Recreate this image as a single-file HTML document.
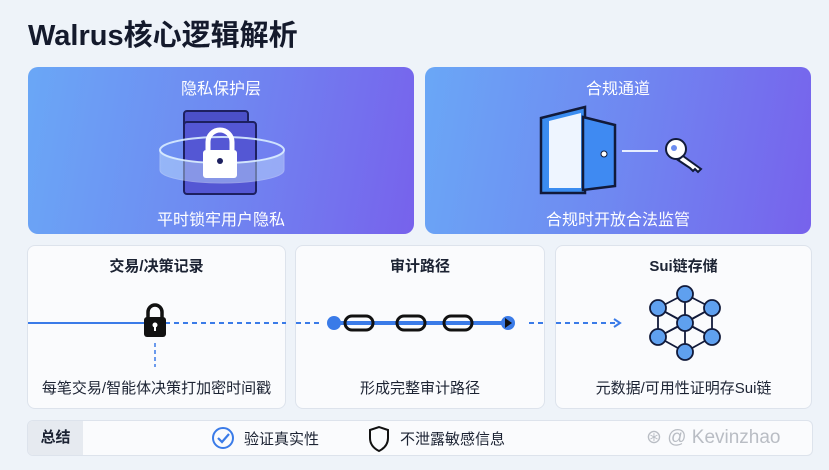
<!DOCTYPE html>
<html><head><meta charset="utf-8"><style>
*{margin:0;padding:0;box-sizing:border-box}
body{width:829px;height:470px;background:#eef3f9;font-family:"Liberation Sans","Noto Sans CJK SC",sans-serif;position:relative;overflow:hidden;color:#1c2333}
.abs{position:absolute}
.title{left:28px;top:12px;font-size:29px;font-weight:bold;color:#141a2c}
.top{top:67px;height:167px;border-radius:10px;background:linear-gradient(100deg,#6aa7f6 0%,#6f88f1 50%,#7762ec 100%);color:#fff;text-align:center}
.top .h{position:absolute;left:0;right:0;top:8px;font-size:16px}
.top .s{position:absolute;left:0;right:0;top:139px;font-size:16px}
.card{top:245px;height:164px;border-radius:8px;background:#fafbfd;border:1px solid #dde3ec;text-align:center}
.card .h{position:absolute;left:0;right:0;top:9px;font-size:15px;font-weight:bold;color:#1c2333}
.card .s{position:absolute;left:0;right:0;top:131px;font-size:15px;color:#1c2333}
</style></head><body>
<div class="abs title">Walrus核心逻辑解析</div>

<div class="abs top" style="left:28px;width:386px"><div class="h">隐私保护层</div><div class="s">平时锁牢用户隐私</div></div>
<div class="abs top" style="left:425px;width:386px"><div class="h">合规通道</div><div class="s">合规时开放合法监管</div></div>

<div class="abs card" style="left:27px;width:259px"><div class="h">交易/决策记录</div><div class="s">每笔交易/智能体决策打加密时间戳</div></div>
<div class="abs card" style="left:295px;width:250px"><div class="h">审计路径</div><div class="s">形成完整审计路径</div></div>
<div class="abs card" style="left:555px;width:257px"><div class="h">Sui链存储</div><div class="s">元数据/可用性证明存Sui链</div></div>

<div class="abs" style="left:27px;top:420px;width:786px;height:36px;border:1px solid #dde3ec;border-radius:6px;background:#fafbfd;overflow:hidden">
<div style="position:absolute;left:0;top:0;width:55px;height:36px;background:#e6eaf0;font-size:15px;font-weight:bold;line-height:34px;text-align:center">总结</div>
<div style="position:absolute;left:216px;top:7px;font-size:15px">验证真实性</div>
<div style="position:absolute;left:372px;top:7px;font-size:15px">不泄露敏感信息</div>
<div style="position:absolute;left:618px;top:5px;font-size:19px;color:#b9bdc4">⊛ @ Kevinzhao</div>
</div>

<svg class="abs" style="left:0;top:0" width="829" height="470">
<!-- privacy icon -->
<rect x="184" y="111" width="64" height="70" rx="3" fill="#4b50c8" stroke="#1d2060" stroke-width="2"/>
<rect x="184" y="122" width="72" height="72" rx="3" fill="#5457d4" stroke="#1d2060" stroke-width="2"/>
<ellipse cx="222" cy="150" rx="62" ry="13" fill="none" stroke="#d8ecff" stroke-width="2" opacity=".9"/>
<path d="M160 150 v20 a62 13 0 0 0 124 0 v-20 a62 13 0 0 1 -124 0z" fill="#c6e3ff" opacity=".45" stroke="#e6f4ff"/>
<path d="M208 150 v-8 a12 12 0 0 1 24 0 v8" fill="none" stroke="#fff" stroke-width="5"/>
<rect x="203" y="150" width="34" height="28" rx="3" fill="#fff"/>
<circle cx="220" cy="161" r="3" fill="#1d2060"/>
<!-- door -->
<path d="M541 118 L585 107 V193 H541z" fill="#3a8cf0" stroke="#111a3a" stroke-width="2.5"/>
<path d="M549 121 L581 113 V188 H549z" fill="#eef5ff"/>
<path d="M583 117 L615 125 V186 L583 190z" fill="#3f8af2" stroke="#111a3a" stroke-width="2.5"/>
<circle cx="604" cy="154" r="3" fill="#fff" stroke="#111a3a"/>
<line x1="622" y1="151" x2="658" y2="151" stroke="#e6eeff" stroke-width="2"/>
<circle cx="676" cy="149" r="10" fill="#fff" stroke="#111a3a" stroke-width="2"/>
<circle cx="674" cy="148" r="3" fill="#6b8cf0"/>
<path d="M683 156 l18 13 l-3 3 l-3-3 l-2 2 l-3-3 l-12-8z" fill="#fff" stroke="#111a3a" stroke-width="2"/>
<!-- row line -->
<line x1="28" y1="323" x2="145" y2="323" stroke="#3a7be8" stroke-width="2"/>
<line x1="165" y1="323" x2="286" y2="323" stroke="#3a7be8" stroke-width="2" stroke-dasharray="5,4"/>
<line x1="296" y1="323" x2="322" y2="323" stroke="#3a7be8" stroke-width="2" stroke-dasharray="5,4"/>
<line x1="155" y1="343" x2="155" y2="367" stroke="#3a7be8" stroke-width="1.5" stroke-dasharray="4,3"/>
<path d="M148 318 v-6 a7 7 0 0 1 14 0 v6" fill="none" stroke="#111" stroke-width="3.5"/>
<rect x="144" y="317" width="22" height="20" rx="3" fill="#111"/>
<circle cx="155" cy="325" r="2.5" fill="#fff"/><rect x="154" y="325" width="2" height="6" fill="#fff"/>
<!-- chain -->
<line x1="334" y1="323" x2="508" y2="323" stroke="#3a7be8" stroke-width="4"/>
<circle cx="334" cy="323" r="7" fill="#3a7be8"/>
<circle cx="508" cy="323" r="7" fill="#3a7be8"/><path d="M505 318 l7 5 l-7 5z" fill="#111"/>
<rect x="345" y="316" width="28" height="14" rx="7" fill="none" stroke="#111" stroke-width="3"/>
<rect x="397" y="316" width="28" height="14" rx="7" fill="none" stroke="#111" stroke-width="3"/>
<rect x="444" y="316" width="28" height="14" rx="7" fill="none" stroke="#111" stroke-width="3"/>
<line x1="529" y1="323" x2="545" y2="323" stroke="#3a7be8" stroke-width="2" stroke-dasharray="5,4"/>
<line x1="556" y1="323" x2="618" y2="323" stroke="#3a7be8" stroke-width="2" stroke-dasharray="5,4"/>
<path d="M614 319 l6 4 l-6 4" fill="none" stroke="#3a7be8" stroke-width="2"/>
<!-- network -->
<g stroke="#111a3a" stroke-width="1.8">
<line x1="685" y1="294" x2="658" y2="308"/><line x1="685" y1="294" x2="712" y2="308"/><line x1="685" y1="294" x2="685" y2="323"/>
<line x1="658" y1="308" x2="685" y2="323"/><line x1="712" y1="308" x2="685" y2="323"/>
<line x1="658" y1="308" x2="658" y2="337"/><line x1="712" y1="308" x2="712" y2="337"/>
<line x1="658" y1="308" x2="712" y2="337"/><line x1="712" y1="308" x2="658" y2="337"/>
<line x1="685" y1="323" x2="658" y2="337"/><line x1="685" y1="323" x2="712" y2="337"/><line x1="685" y1="323" x2="685" y2="352"/>
<line x1="658" y1="337" x2="685" y2="352"/><line x1="712" y1="337" x2="685" y2="352"/>
</g>
<g fill="#5fa0ef" stroke="#111a3a" stroke-width="1.8">
<circle cx="685" cy="294" r="8"/><circle cx="658" cy="308" r="8"/><circle cx="712" cy="308" r="8"/>
<circle cx="685" cy="323" r="8"/><circle cx="658" cy="337" r="8"/><circle cx="712" cy="337" r="8"/><circle cx="685" cy="352" r="8"/>
</g>
<!-- summary icons -->
<circle cx="223" cy="438" r="10" fill="none" stroke="#3a7be8" stroke-width="2"/>
<path d="M218 438 l4 4 l7 -8" fill="none" stroke="#3a7be8" stroke-width="2.2"/>
<path d="M370 430 l9 -3 l9 3 v8 c0 7 -5 11 -9 13 c-4 -2 -9 -6 -9 -13z" fill="none" stroke="#111" stroke-width="2"/>
</svg>
</body></html>
